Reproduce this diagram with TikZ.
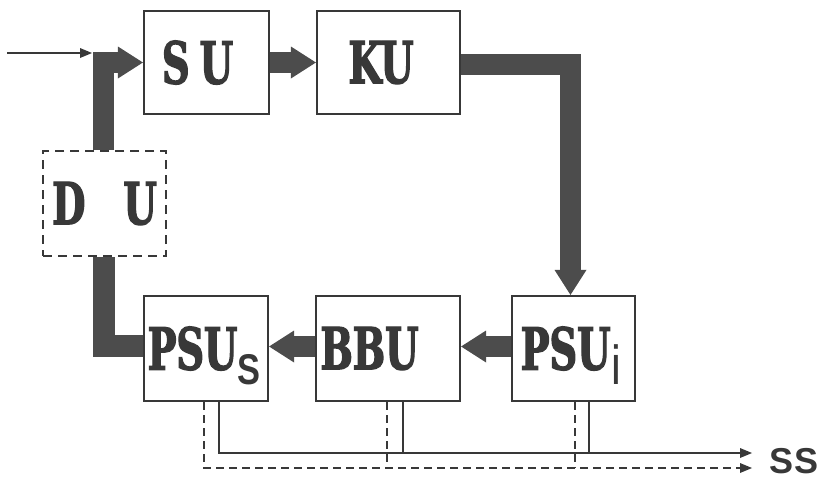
\documentclass[tikz,border=0pt]{standalone}
\usepackage{fontspec}
\usetikzlibrary{arrows.meta}
\newfontfamily\slabf[FakeStretch=0.66,BoldFeatures={FakeBold=2.2}]{DejaVu Serif}
\newfontfamily\sansf{Liberation Sans}
\newfontfamily\sanssub[FakeStretch=0.8]{Liberation Sans}
\definecolor{ink}{gray}{0.22}
\definecolor{barc}{gray}{0.30}
\begin{document}
\begin{tikzpicture}[x=1pt,y=-1pt,
  box/.style={draw=ink, line width=2.2pt, inner sep=0pt, text=ink,
    font=\slabf\bfseries\fontsize{58}{58}\selectfont},
  dbox/.style={box, dash pattern=on 9pt off 6pt},
  fat/.style={draw=barc, line width=21pt,
    -{Triangle[length=25pt,width=32pt,line width=0pt]}},
  fatline/.style={draw=barc, line width=22pt},
  sig/.style={draw=ink, line width=2.2pt,
    -{Triangle[length=12pt,width=10pt,line width=0pt]}},
  dsig/.style={sig, dash pattern=on 8pt off 5pt},
  link/.style={draw=ink, line width=2.2pt},
  dlink/.style={link, dash pattern=on 8pt off 5pt}]
\useasboundingbox[fill=white] (0,0) rectangle (822,480);

% boxes
\node[box, minimum width=125pt, minimum height=103pt] (su) at (206.5,62.5)
  {S\kern10pt U\kern18pt};
\node[box, minimum width=143pt, minimum height=103pt] (ku) at (388.5,62.5)
  {KU\kern15pt};
\node[dbox, minimum width=123pt, minimum height=105pt] (du) at (104.5,203.5)
  {D\kern38pt U};
\node[box, minimum width=124pt, minimum height=105pt] (psus) at (206,348.5)
  {PSU\smash{\raisebox{-15pt}{\sanssub\bfseries\fontsize{43}{43}\selectfont S}}\kern4pt};
\node[box, minimum width=144pt, minimum height=105pt] (bbu) at (388,348.5)
  {BBU\kern37pt};
\node[box, minimum width=123pt, minimum height=105pt] (psui) at (573.5,348.5)
  {PSU\smash{\raisebox{-15pt}{\kern1pt\sanssub\mdseries\fontsize{55}{55}\selectfont i}}\kern5pt};

% thick flow arrows
\draw[fat] (su.east) -- (ku.west);
\draw[fat] ([yshift=-1.5pt]ku.east) -| ([xshift=-3pt]psui.north);
\draw[fat] ([yshift=2pt]psui.west) -- ([yshift=2pt]bbu.east);
\draw[fat] ([yshift=2pt]bbu.west) -- ([yshift=2pt]psus.east);
\draw[fatline] ([yshift=2.5pt]psus.west) -| ([xshift=-1pt]du.south);
\draw[fat] ([xshift=-1pt]du.north) |- (su.west);

% input arrow
\coordinate (inA) at (7,53);
\coordinate (inB) at (92,53);
\draw[sig] (inA) -- (inB);

% output signal lines
\coordinate (ss1) at (752,453);
\coordinate (ss2) at (752,468);
\node[font=\sansf\bfseries\fontsize{36}{36}\selectfont, text=ink, inner sep=0pt] (ss) at (794,461.5) {SS};
\draw[sig] ([xshift=13pt]psus.south) |- (ss1);
\draw[link] ([xshift=15pt]bbu.south) -- ([xshift=15pt]bbu.south |- ss1);
\draw[link] ([xshift=15.5pt]psui.south) -- ([xshift=15.5pt]psui.south |- ss1);
\draw[dsig] ([xshift=-2pt]psus.south) |- (ss2);
\draw[dlink] ([xshift=-1pt]bbu.south) -- ([xshift=-1pt]bbu.south |- ss2);
\draw[dlink] ([xshift=1.5pt]psui.south) -- ([xshift=1.5pt]psui.south |- ss2);
\end{tikzpicture}
\end{document}
